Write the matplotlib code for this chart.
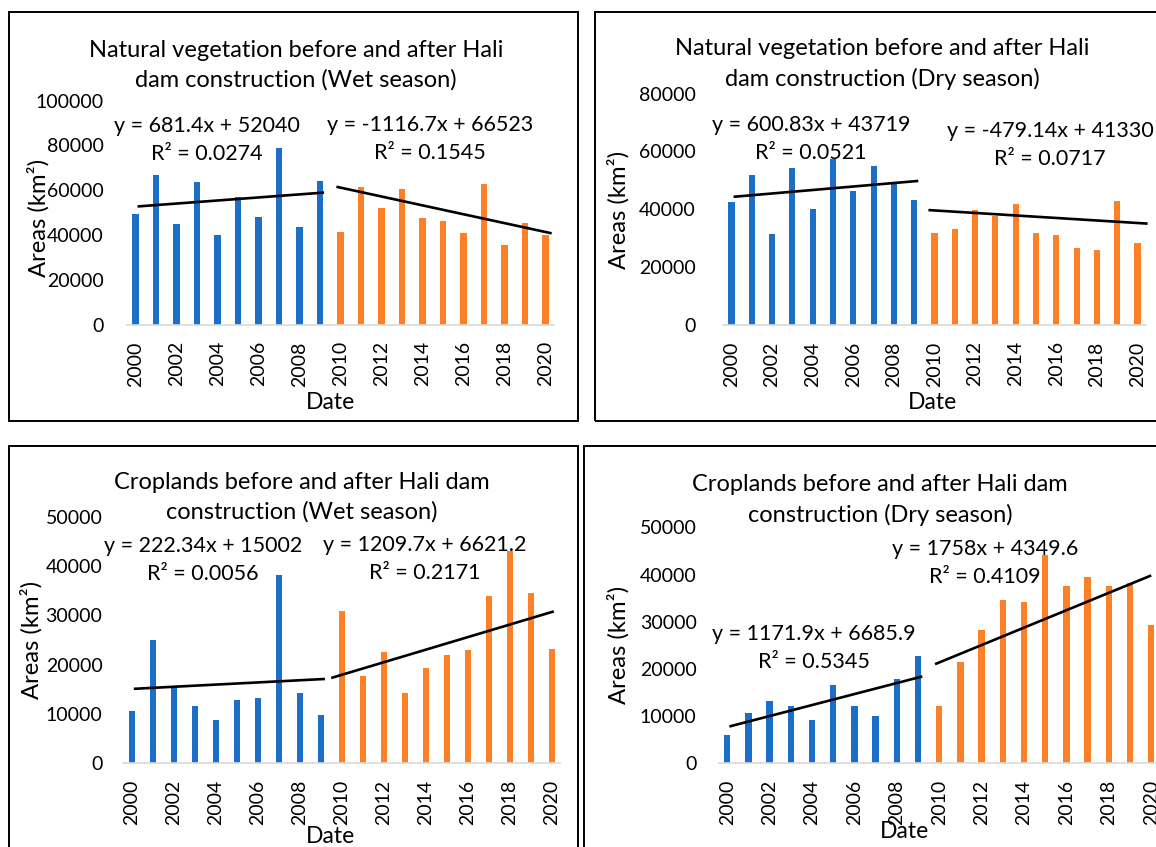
import numpy as np
import matplotlib
matplotlib.use('Agg')
import matplotlib.pyplot as plt
from matplotlib.patches import Rectangle

plt.rcParams['font.family'] = ['Lato', 'DejaVu Sans']

W = 1156
H = 847

years = list(range(2000, 2021))
years_before = years[:10]
years_after = years[10:]
even_years = years[::2]

# natural vegetation, wet season (km2)
veg_wet_before = [49200, 66700, 45000, 63700, 39900, 56900, 48100, 78700, 43600, 64000]
veg_wet_after = [41300, 61200, 52100, 60400, 47600, 46400, 40700, 62500, 35600, 45500, 39900]
# natural vegetation, dry season
veg_dry_before = [42400, 51700, 31400, 54200, 40100, 57500, 46400, 55100, 49400, 43200]
veg_dry_after = [31700, 33300, 39800, 37500, 41800, 31600, 30900, 26500, 26000, 42800, 28300]
# croplands, wet season
crop_wet_before = [10700, 25100, 15400, 11700, 8800, 12900, 13300, 38100, 14300, 9700]
crop_wet_after = [30800, 17800, 22500, 14200, 19400, 21900, 23000, 34000, 43000, 34500, 23100]
# croplands, dry season
crop_dry_before = [6000, 10600, 13100, 12100, 9100, 16600, 12200, 10000, 17900, 22700]
crop_dry_after = [12100, 21500, 28200, 34700, 34100, 44100, 37600, 39500, 37600, 38100, 29400]

# trend lines as drawn in the picture: (start year, start value, end year, end value)
veg_wet_trend = [(2000.1, 52700, 2009.2, 58900), (2009.8, 61500, 2020.3, 40700)]
veg_dry_trend = [(2000.1, 44300, 2009.2, 49800), (2009.7, 39700, 2020.5, 35000)]
crop_wet_trend = [(2000.1, 15100, 2009.2, 17100), (2009.5, 17300, 2020.1, 30800)]
crop_dry_trend = [(2000.1, 7800, 2009.2, 18400), (2009.8, 21000, 2020.0, 39800)]

veg_wet_eq = ['y = 681.4x + 52040\nR² = 0.0274', 'y = -1116.7x + 66523\nR² = 0.1545']
veg_dry_eq = ['y = 600.83x + 43719\nR² = 0.0521', 'y = -479.14x + 41330\nR² = 0.0717']
crop_wet_eq = ['y = 222.34x + 15002\nR² = 0.0056', 'y = 1209.7x + 6621.2\nR² = 0.2171']
crop_dry_eq = ['y = 1171.9x + 6685.9\nR² = 0.5345', 'y = 1758x + 4349.6\nR² = 0.4109']

titles = ['Natural vegetation before and after Hali\ndam construction (Wet season)',
          'Natural vegetation before and after Hali\ndam construction (Dry season)',
          'Croplands before and after Hali dam\nconstruction (Wet season)',
          'Croplands before and after Hali dam\nconstruction (Dry season)']

blue = '#1b6fc6'
orange = '#fd8027'
fs = 14


def fx(x):
    return x / W


def fy(y):
    return 1 - y / H


def panel(border, axbox, ymax, ystep, ypad, before, after, trend, eqs, eqpos,
          title, titlepos, ylabpos, datepos):
    bx0, by0, bx1, by1 = border
    fig.add_artist(Rectangle((fx(bx0), fy(by1)), fx(bx1 - bx0), (by1 - by0) / H,
                             transform=fig.transFigure, fill=False,
                             edgecolor='black', linewidth=1.4))
    x0, x1, ytop, ybot = axbox
    ax = fig.add_axes([fx(x0), fy(ybot), fx(x1 - x0), (ybot - ytop) / H])
    ax.bar(years_before, before, width=0.3, color=blue)
    ax.bar(years_after, after, width=0.3, color=orange)
    for xs, ys, xe, ye in trend:
        ax.plot([xs, xe], [ys, ye], color='black', linewidth=1.9,
                solid_capstyle='butt', clip_on=False)
    ax.set_xlim(1999.6, 2020.4)
    ax.set_ylim(0, ymax)
    ax.set_xticks(even_years)
    ax.set_xticklabels([str(y) for y in even_years], rotation=90, fontsize=fs)
    ax.set_yticks(np.arange(0, ymax + 1, ystep))
    ax.set_yticklabels([str(int(v)) for v in np.arange(0, ymax + 1, ystep)], fontsize=fs)
    ax.tick_params(axis='x', length=0, pad=12)
    ax.tick_params(axis='y', length=0, pad=ypad)
    for s in ['top', 'left', 'right']:
        ax.spines[s].set_visible(False)
    ax.spines['bottom'].set_color('#d9d9d9')
    ax.spines['bottom'].set_linewidth(1.2)
    ax.patch.set_alpha(0)
    for txt, (tx, ty) in zip(eqs, eqpos):
        fig.text(fx(tx), fy(ty), txt, ha='center', va='center', fontsize=15.5,
                 linespacing=1.5)
    fig.text(fx(titlepos[0]), fy(titlepos[1]), title, ha='center', va='center',
             fontsize=17, linespacing=1.45)
    fig.text(fx(ylabpos[0]), fy(ylabpos[1]), 'Areas (km²)', ha='center', va='center',
             fontsize=17.2, rotation=90)
    fig.text(fx(datepos[0]), fy(datepos[1]), 'Date', ha='center', va='center',
             fontsize=16.5)
    return ax


fig = plt.figure(figsize=(W / 100, H / 100), dpi=100)

panel((9, 12, 578, 421), (127.3, 553.7, 100.5, 324.5), 100000, 20000, 17,
      veg_wet_before, veg_wet_after, veg_wet_trend, veg_wet_eq,
      [(207, 140), (430, 139)], titles[0], (296, 65), (38, 218), (331, 402))

panel((595, 12, 1162, 421), (723.4, 1145.6, 93.8, 324.6), 80000, 20000, 20,
      veg_dry_before, veg_dry_after, veg_dry_trend, veg_dry_eq,
      [(811, 139), (1050, 145)], titles[1], (882, 64), (618, 210), (932, 402))

panel((9, 446, 578, 860), (123.3, 560.1, 516.7, 763.3), 50000, 10000, 15,
      crop_wet_before, crop_wet_after, crop_wet_trend, crop_wet_eq,
      [(203, 560), (425, 559)], titles[2], (302, 497), (31, 640), (331, 836))

panel((584, 446, 1162, 860), (718.8, 1159.7, 527.3, 763.3), 50000, 10000, 16,
      crop_dry_before, crop_dry_after, crop_dry_trend, crop_dry_eq,
      [(814, 648), (985, 563)], titles[3], (880, 500), (618, 645), (905, 831))

fig.savefig('out.png', dpi=100)
